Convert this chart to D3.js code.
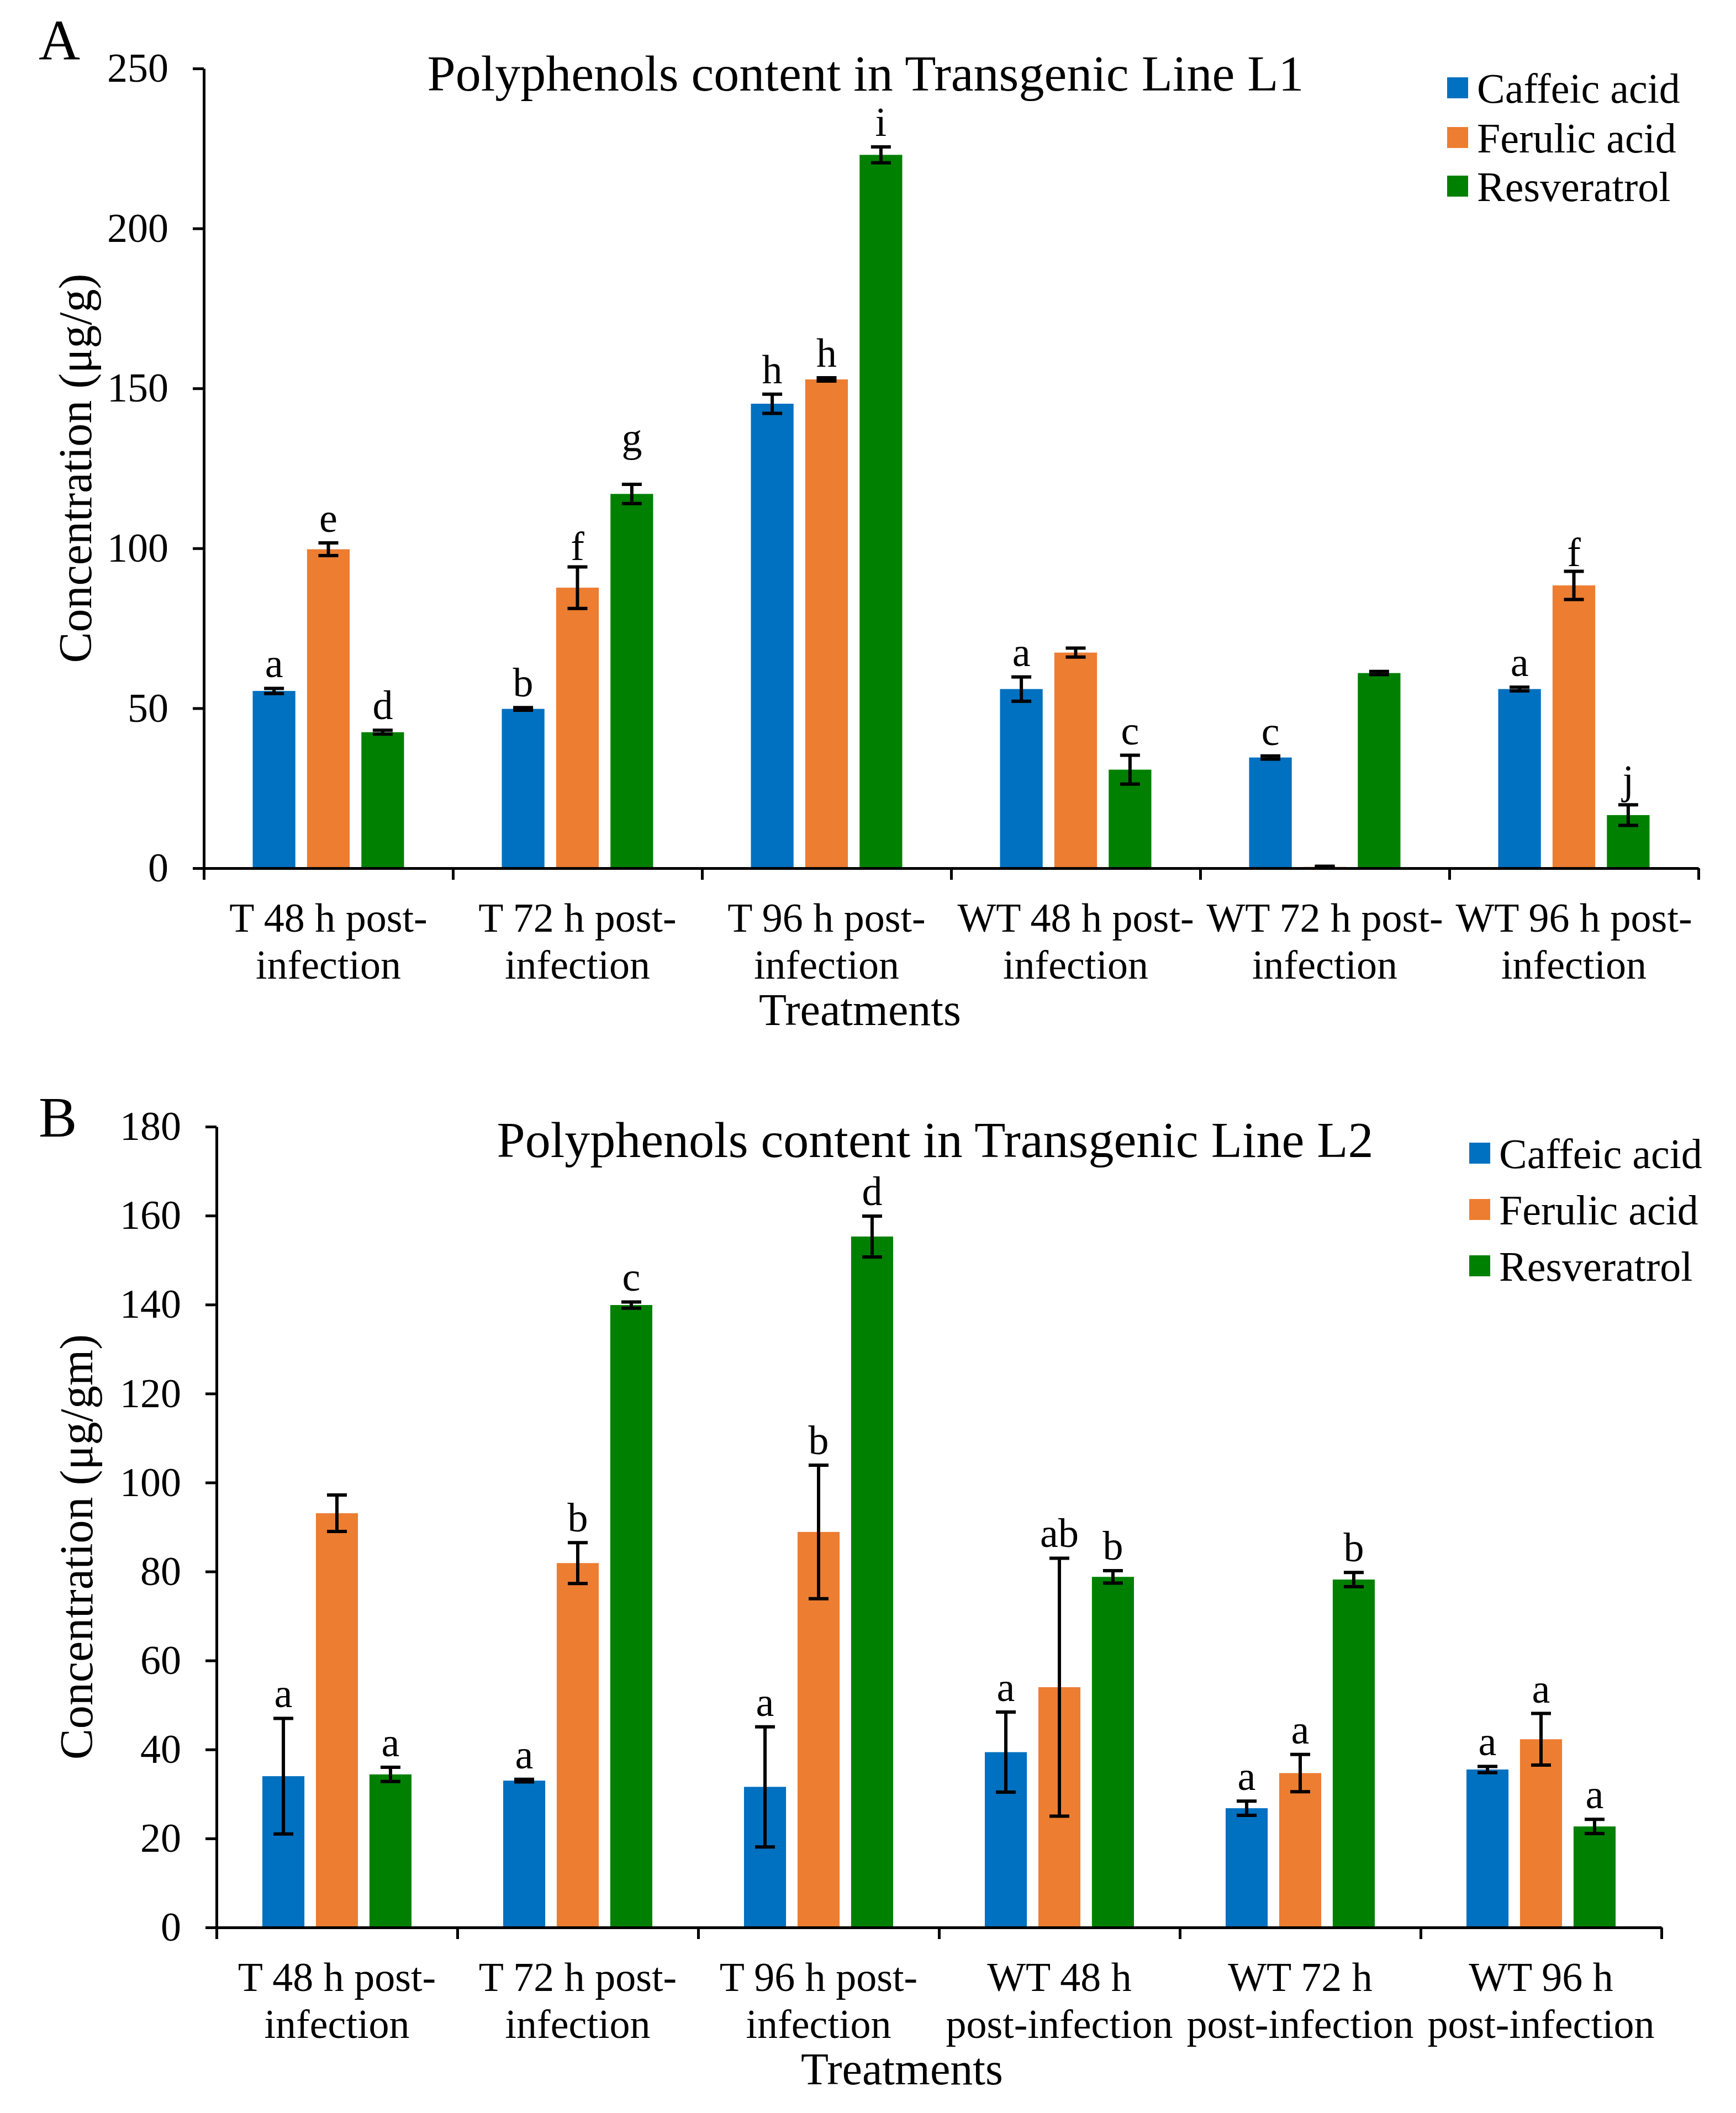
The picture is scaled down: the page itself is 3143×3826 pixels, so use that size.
<!DOCTYPE html>
<html><head><meta charset="utf-8">
<script src="https://cdn.jsdelivr.net/npm/d3@7"></script>
<style>
body{margin:0;background:#fff}
text{font-family:"Liberation Serif","Times New Roman",serif;fill:#000}
</style>
</head><body>
<svg id="chart" width="3143" height="3826"></svg>
<script>
// ---------- DATA ----------
const seriesNames = ["Caffeic acid", "Ferulic acid", "Resveratrol"];
const seriesColors = ["#0070C0", "#ED7D31", "#008000"];

// Panel A
const categoriesA = ["T 48 h post-infection","T 72 h post-infection","T 96 h post-infection","WT 48 h post-infection","WT 72 h post-infection","WT 96 h post-infection"];
const tickLinesA = [["T 48 h post-","infection"],["T 72 h post-","infection"],["T 96 h post-","infection"],["WT 48 h post-","infection"],["WT 72 h post-","infection"],["WT 96 h post-","infection"]];
const caffeicA = [55.4, 49.8, 145.2, 56.0, 34.6, 56.0];
const caffeicErrA = [0.8, 0.4, 3.0, 3.8, 0.5, 0.6];
const ferulicA = [99.7, 87.7, 152.8, 67.4, 0.4, 88.4];
const ferulicErrA = [2.0, 6.5, 0.5, 1.4, 0.2, 4.4];
const resveratrolA = [42.5, 117.0, 223.0, 30.8, 61.0, 16.6];
const resveratrolErrA = [0.6, 3.0, 2.5, 4.5, 0.5, 3.2];
const caffeicLetA = ["a","b","h","a","c","a"];
const ferulicLetA = ["e","f","h","","","f"];
const resveratrolLetA = ["d","g","i","c","","j"];
const yTicksA = [0, 50, 100, 150, 200, 250];

// Panel B
const categoriesB = ["T 48 h post-infection","T 72 h post-infection","T 96 h post-infection","WT 48 h post-infection","WT 72 h post-infection","WT 96 h post-infection"];
const tickLinesB = [["T 48 h post-","infection"],["T 72 h post-","infection"],["T 96 h post-","infection"],["WT 48 h","post-infection"],["WT 72 h","post-infection"],["WT 96 h","post-infection"]];
const caffeicB = [34.0, 33.0, 31.6, 39.4, 26.8, 35.5];
const caffeicErrB = [13.0, 0.3, 13.5, 9.0, 1.6, 0.7];
const ferulicB = [93.1, 81.9, 88.9, 54.0, 34.7, 42.3];
const ferulicErrB = [4.1, 4.6, 15.0, 29.0, 4.2, 5.8];
const resveratrolB = [34.4, 139.9, 155.3, 78.8, 78.2, 22.7];
const resveratrolErrB = [1.6, 0.7, 4.6, 1.4, 1.6, 1.6];
const caffeicLetB = ["a","a","a","a","a","a"];
const ferulicLetB = ["","b","b","ab","a","a"];
const resveratrolLetB = ["a","c","d","b","b","a"];
const yTicksB = [0, 20, 40, 60, 80, 100, 120, 140, 160, 180];

// ---------- DRAW ----------
const svg = d3.select("#chart");
svg.append("rect").attr("width", 3143).attr("height", 3826).attr("fill", "#fff");

// letter gaps above error bar (px); default 20
const letterGap = { "A|Resveratrol|T 72 h post-infection": 60, "A|Ferulic acid|T 72 h post-infection": 12, "A|Ferulic acid|WT 96 h post-infection": 10 };

function panel(cfg) {
  const g = svg.append("g");
  const x0 = d3.scaleBand().domain(cfg.categories).range([cfg.left, cfg.right]).padding(0);
  const c = x0.bandwidth() / 2;
  const x1 = d3.scaleBand().domain(seriesNames).range([c - cfg.half, c + cfg.half]).paddingInner(0.215).paddingOuter(0);
  const y = d3.scaleLinear().domain([0, cfg.yMax]).range([cfg.bottom, cfg.top]);
  const xb = d3.scaleLinear().domain([0, cfg.categories.length]).range([cfg.left, cfg.right]);

  const series = seriesNames.map((n, i) => ({
    name: n, color: seriesColors[i], values: cfg.values[i], errors: cfg.errors[i], letters: cfg.letters[i]
  }));

  const pts = [];
  series.forEach(s => s.values.forEach((v, j) => pts.push({
    s: s.name, color: s.color, cat: cfg.categories[j], v: v, e: s.errors[j], l: s.letters[j]
  })));

  // bars
  g.selectAll("rect.bar").data(pts).enter().append("rect")
    .attr("x", d => x0(d.cat) + x1(d.s))
    .attr("width", x1.bandwidth())
    .attr("y", d => y(d.v))
    .attr("height", d => y(0) - y(d.v))
    .attr("fill", d => d.color);

  // error bars
  const cap = 18;
  const eg = g.append("g").attr("stroke", "#000").attr("stroke-width", 6);
  pts.forEach(d => {
    const cx = x0(d.cat) + x1(d.s) + x1.bandwidth() / 2;
    const y1 = y(d.v + d.e), y2 = y(Math.max(0, d.v - d.e));
    eg.append("line").attr("x1", cx).attr("x2", cx).attr("y1", y1).attr("y2", y2);
    eg.append("line").attr("x1", cx - cap).attr("x2", cx + cap).attr("y1", y1).attr("y2", y1);
    eg.append("line").attr("x1", cx - cap).attr("x2", cx + cap).attr("y1", y2).attr("y2", y2);
  });

  // letters
  g.selectAll("text.let").data(pts.filter(d => d.l)).enter().append("text")
    .attr("x", d => x0(d.cat) + x1(d.s) + x1.bandwidth() / 2)
    .attr("y", d => {
      const k = cfg.panel + "|" + d.s + "|" + d.cat;
      return y(d.v + d.e) - (letterGap[k] !== undefined ? letterGap[k] : 20);
    })
    .attr("text-anchor", "middle")
    .attr("font-size", 74)
    .text(d => d.l);

  // y axis
  const ya = g.append("g").attr("transform", `translate(${cfg.left},0)`)
    .call(d3.axisLeft(y).tickValues(cfg.yTicks).tickSize(20).tickSizeOuter(0).tickPadding(44));
  ya.selectAll("path,line").attr("stroke", "#000").attr("stroke-width", 5);
  ya.selectAll("text").attr("font-size", 74).attr("font-family", '"Liberation Serif","Times New Roman",serif').attr("fill", "#000");

  // x axis (ticks at group boundaries)
  const xa = g.append("g").attr("transform", `translate(0,${cfg.bottom})`)
    .call(d3.axisBottom(xb).tickValues(d3.range(cfg.categories.length + 1)).tickFormat("").tickSize(21).tickSizeOuter(0));
  xa.selectAll("path,line").attr("stroke", "#000").attr("stroke-width", 5);

  // x tick labels (two lines)
  const tl = g.selectAll("text.xl").data(cfg.categories).enter().append("text")
    .attr("text-anchor", "middle").attr("font-size", 74);
  tl.each(function(d, i) {
    const t = d3.select(this);
    cfg.tickLines[i].forEach((ln, k) => {
      t.append("tspan").attr("x", x0(d) + c).attr("y", cfg.bottom + 115 + k * 85).text(ln);
    });
  });

  // x title
  g.append("text").attr("x", cfg.xTitleX).attr("y", cfg.bottom + 284)
    .attr("text-anchor", "middle").attr("font-size", 82).text("Treatments");

  // y title
  g.append("text").attr("transform", `translate(${cfg.yTitleX},${cfg.yTitleY}) rotate(-90)`)
    .attr("text-anchor", "middle").attr("font-size", 84).text(cfg.yTitle);

  // chart title
  g.append("text").attr("x", cfg.titleX).attr("y", cfg.titleY)
    .attr("text-anchor", "middle").attr("font-size", 92).text(cfg.title);

  // panel letter
  g.append("text").attr("x", 70).attr("y", cfg.panelY).attr("font-size", 104).text(cfg.panel);

  // legend
  const lg = g.append("g");
  series.forEach((s, i) => {
    const cy = cfg.legY[i];
    lg.append("rect").attr("x", cfg.legX).attr("y", cy - 19).attr("width", 38).attr("height", 38).attr("fill", s.color);
    lg.append("text").attr("x", cfg.legX + 54).attr("y", cy).attr("dy", "0.35em").attr("font-size", 76).text(s.name);
  });
}

panel({
  categories: categoriesA, tickLines: tickLinesA,
  values: [caffeicA, ferulicA, resveratrolA],
  errors: [caffeicErrA, ferulicErrA, resveratrolErrA],
  letters: [caffeicLetA, ferulicLetA, resveratrolLetA],
  yTicks: yTicksA, yMax: 250,
  left: 369, right: 3075, top: 124, bottom: 1572, half: 137,
  xTitleX: 1557, yTitleX: 165, yTitleY: 848,
  yTitle: "Concentration (μg/g)",
  title: "Polyphenols content in Transgenic Line L1", titleX: 1567, titleY: 164,
  panel: "A", panelY: 108,
  legX: 2620, legY: [159, 249, 337]
});

panel({
  categories: categoriesB, tickLines: tickLinesB,
  values: [caffeicB, ferulicB, resveratrolB],
  errors: [caffeicErrB, ferulicErrB, resveratrolErrB],
  letters: [caffeicLetB, ferulicLetB, resveratrolLetB],
  yTicks: yTicksB, yMax: 180,
  left: 392, right: 3008, top: 2040, bottom: 3490, half: 135,
  xTitleX: 1633, yTitleX: 167, yTitleY: 2801,
  yTitle: "Concentration (μg/gm)",
  title: "Polyphenols content in Transgenic Line L2", titleX: 1693, titleY: 2095,
  panel: "B", panelY: 2058,
  legX: 2660, legY: [2088, 2190, 2292]
});
</script>
</body></html>
